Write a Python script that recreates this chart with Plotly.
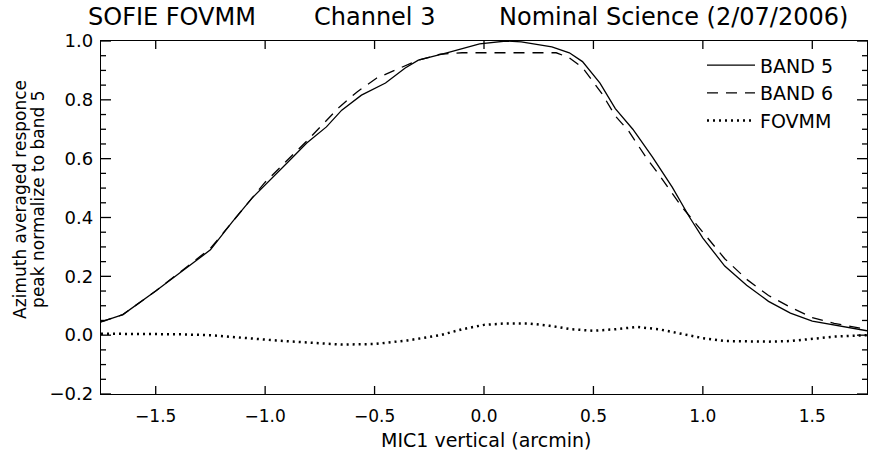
import plotly.graph_objects as go

# MIC1 vertical offset (arcmin) and azimuth-averaged response, band 5
x_band5 = [-1.75, -1.65, -1.5, -1.4, -1.25, -1.15, -1.06, -0.9, -0.81, -0.72, -0.65,
           -0.56, -0.45, -0.36, -0.3, -0.17, -0.02, 0.1, 0.17, 0.31, 0.39, 0.45,
           0.53, 0.6, 0.68, 0.77, 0.86, 0.94, 1.0, 1.1, 1.2, 1.3, 1.4, 1.5, 1.6, 1.75]
band5 = [0.045, 0.07, 0.15, 0.205, 0.29, 0.385, 0.466, 0.585, 0.653, 0.708, 0.765,
         0.816, 0.857, 0.908, 0.935, 0.96, 0.99, 1.0, 0.997, 0.98, 0.96, 0.93,
         0.857, 0.77, 0.70, 0.605, 0.503, 0.40, 0.33, 0.235, 0.17, 0.115, 0.075, 0.048, 0.035, 0.015]

# Band 6 response
x_band6 = [-1.75, -1.65, -1.5, -1.25, -1.0, -0.81, -0.66, -0.58, -0.49, -0.39, -0.3,
           -0.2, -0.1, 0.0, 0.1, 0.2, 0.33, 0.39, 0.45, 0.54, 0.6, 0.66, 0.74, 0.8,
           0.9, 1.0, 1.1, 1.2, 1.3, 1.4, 1.5, 1.6, 1.75]
band6 = [0.045, 0.07, 0.15, 0.295, 0.52, 0.66, 0.776, 0.827, 0.874, 0.905, 0.935,
         0.955, 0.96, 0.96, 0.96, 0.96, 0.96, 0.943, 0.91, 0.82, 0.745, 0.695, 0.605, 0.545,
         0.44, 0.35, 0.26, 0.19, 0.135, 0.095, 0.06, 0.04, 0.02]

# FOVMM difference curve
x_fovmm = [-1.75, -1.6, -1.4, -1.25, -1.1, -0.95, -0.8, -0.65, -0.5, -0.35, -0.2,
           -0.1, 0.0, 0.1, 0.2, 0.3, 0.4, 0.5, 0.6, 0.7, 0.8, 0.9, 1.0, 1.1, 1.2,
           1.3, 1.4, 1.5, 1.6, 1.75]
fovmm = [0.005, 0.005, 0.003, 0.0, -0.01, -0.018, -0.025, -0.032, -0.03, -0.018, 0.0,
         0.02, 0.035, 0.04, 0.04, 0.032, 0.02, 0.015, 0.02, 0.028, 0.02, 0.005, -0.01,
         -0.02, -0.022, -0.022, -0.02, -0.012, -0.005, 0.0]

x_ticks = [-1.5, -1.0, -0.5, 0.0, 0.5, 1.0, 1.5]
x_labels = ["\u22121.5", "\u22121.0", "\u22120.5", "0.0", "0.5", "1.0", "1.5"]
y_ticks = [-0.2, 0.0, 0.2, 0.4, 0.6, 0.8, 1.0]
y_labels = ["\u22120.2", "0.0", "0.2", "0.4", "0.6", "0.8", "1.0"]
y_minor_ticks = [-0.15, -0.1, -0.05, 0.05, 0.1, 0.15, 0.25, 0.3, 0.35, 0.45, 0.5, 0.55,
                 0.65, 0.7, 0.75, 0.85, 0.9, 0.95]

FONT = "DejaVu Sans"

fig = go.Figure()
fig.add_trace(go.Scatter(x=x_band5, y=band5, mode="lines", name="BAND 5",
                         line=dict(color="black", width=1.3)))
fig.add_trace(go.Scatter(x=x_band6, y=band6, mode="lines", name="BAND 6",
                         line=dict(color="black", width=1.3, dash="11px,8px")))
fig.add_trace(go.Scatter(x=x_fovmm, y=fovmm, mode="lines", name="FOVMM",
                         line=dict(color="black", width=2.5, dash="2px,4px")))

tick_font = dict(family=FONT, size=17, color="black")

fig.update_layout(
    xaxis=dict(range=[-1.75, 1.75], tickmode="array", tickvals=x_ticks, ticktext=x_labels,
               ticks="", ticklabelstandoff=6,
               showline=True, linecolor="#000000", linewidth=1.3, mirror=True,
               showgrid=False, zeroline=False, tickfont=tick_font),
    yaxis=dict(range=[-0.2, 1.0], tickmode="array", tickvals=y_ticks, ticktext=y_labels,
               ticks="", ticklabelstandoff=3,
               showline=True, linecolor="#000000", linewidth=1.3, mirror=True,
               showgrid=False, zeroline=False, tickfont=dict(family=FONT, size=18, color="black")),
)

# Inward tick marks on all four sides of the frame (pixel-length segments)
tick_line = dict(color="black", width=1.3)
for v in x_ticks:
    for anchor, length in [(0, 8), (1, -8)]:
        fig.add_shape(type="line", layer="above", xref="x", x0=v, x1=v,
                      yref="paper", ysizemode="pixel", yanchor=anchor, y0=0, y1=length,
                      line=tick_line)
for values, tlen in [(y_ticks, 10), (y_minor_ticks, 5)]:
    for v in values:
        for anchor, length in [(0, tlen), (1, -tlen)]:
            fig.add_shape(type="line", layer="above", yref="y", y0=v, y1=v,
                          xref="paper", xsizemode="pixel", xanchor=anchor, x0=0, x1=length,
                          line=tick_line)

title_font = dict(family=FONT, size=24, color="black")
for txt, xp in [("SOFIE FOVMM", -0.02), ("Channel 3", 0.275), ("Nominal Science (2/07/2006)", 0.517)]:
    fig.add_annotation(text=txt, xref="paper", yref="paper", x=xp, y=1.068,
                       xanchor="left", yanchor="middle", showarrow=False, font=title_font)

fig.add_annotation(text="MIC1 vertical (arcmin)", xref="paper", yref="paper",
                   x=0.502, y=-0.13, xanchor="center", yanchor="middle", showarrow=False,
                   font=dict(family=FONT, size=19, color="black"))
for txt, xp in [("Azimuth averaged responce", -0.1057), ("peak normalize to band 5", -0.0822)]:
    fig.add_annotation(text=txt, xref="paper", yref="paper", x=xp, y=0.55, textangle=-90,
                       xanchor="center", yanchor="middle", showarrow=False,
                       font=dict(family=FONT, size=17, color="black"))

fig.update_layout(
    width=885, height=453,
    margin=dict(l=101, r=18, t=41, b=59),
    plot_bgcolor="white", paper_bgcolor="white",
    showlegend=True,
    legend=dict(x=0.7846, y=0.985, xanchor="left", yanchor="top",
                bgcolor="rgba(0,0,0,0)", borderwidth=0,
                font=dict(family=FONT, size=19, color="black"),
                itemwidth=48, tracegroupgap=0),
)

fig.write_html("out.html")
